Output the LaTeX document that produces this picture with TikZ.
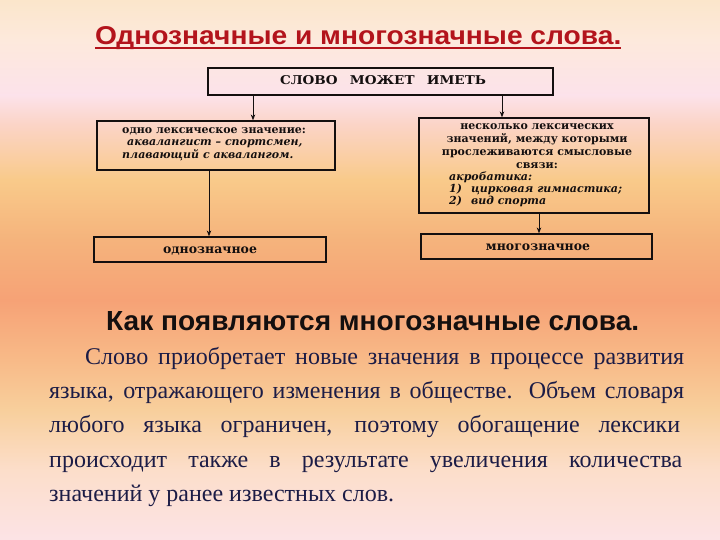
\documentclass[tikz,border=0pt]{standalone}
\usepackage{fontspec}
\setmainfont{Liberation Serif}
\newfontfamily\sansb{Liberation Sans}
\newfontfamily\boxfont{DejaVu Serif}
\usetikzlibrary{arrows.meta}
\definecolor{g0}{HTML}{FBE6CB}
\definecolor{g1}{HTML}{FDE9DC}
\definecolor{g2}{HTML}{FCE2EA}
\definecolor{g3}{HTML}{FBD4C6}
\definecolor{g4}{HTML}{F9CA8A}
\definecolor{g5}{HTML}{F5B37C}
\definecolor{g6}{HTML}{F6A276}
\definecolor{g7}{HTML}{F8BA88}
\definecolor{g8}{HTML}{F8CF9C}
\definecolor{g9}{HTML}{FCDECA}
\definecolor{g10}{HTML}{FCE3E6}
\definecolor{titlered}{HTML}{B3141C}
\definecolor{navy}{HTML}{1C1C46}
\definecolor{ink}{HTML}{140F0F}
\tikzset{
  box/.style={draw=ink, line width=1.2pt, inner sep=0pt},
  btext/.style={inner sep=0pt, text=ink, font=\boxfont\fontsize{11}{13}\selectfont},
  para/.style={inner sep=0pt, anchor=base west, text=navy, font=\fontsize{24}{34}\selectfont},
  arr/.style={draw=ink, line width=0.9pt, -{Stealth[length=6pt,width=4.5pt]}}
}
\begin{document}
\begin{tikzpicture}[x=1pt,y=-1pt]
\useasboundingbox (0,0) rectangle (720,540);
% background gradient
\shade[top color=g0, bottom color=g1] (0,0) rectangle (720,40);
\shade[top color=g1, bottom color=g2] (0,40) rectangle (720,95);
\shade[top color=g2, bottom color=g3] (0,95) rectangle (720,125);
\shade[top color=g3, bottom color=g4] (0,125) rectangle (720,180);
\shade[top color=g4, bottom color=g5] (0,180) rectangle (720,240);
\shade[top color=g5, bottom color=g6] (0,240) rectangle (720,300);
\shade[top color=g6, bottom color=g7] (0,300) rectangle (720,360);
\shade[top color=g7, bottom color=g8] (0,360) rectangle (720,410);
\shade[top color=g8, bottom color=g9] (0,410) rectangle (720,470);
\shade[top color=g9, bottom color=g10] (0,470) rectangle (720,540.5);

% title
\node[anchor=base west, inner sep=0pt, text=titlered] (title) at (95,45)
  {\resizebox{526pt}{18pt}{\sansb\bfseries Однозначные и многозначные слова.}};
\draw[titlered, line width=2pt] ([yshift=-3pt]title.base west) -- ([yshift=-3pt]title.base east);

% boxes
\node[box, minimum width=345pt, minimum height=27pt] (top) at (380.5,81.5) {};
\node[box, minimum width=238pt, minimum height=49pt] (lbox) at (216,145.5) {};
\node[box, minimum width=230pt, minimum height=95pt] (rbox) at (534,165.5) {};
\node[box, minimum width=232pt, minimum height=25pt] (lbot) at (210,249.5) {};
\node[box, minimum width=231pt, minimum height=25pt] (rbot) at (536.5,246.5) {};

% box texts
\node[btext, anchor=base] (toptext) at (383,85)
  {\resizebox{206pt}{9pt}{\bfseries СЛОВО\hspace{0.9em}МОЖЕТ\hspace{0.9em}ИМЕТЬ}};
\node[btext, anchor=base west] (lt1) at (122,134) {\bfseries одно лексическое значение:};
\node[btext, anchor=base west] (lt2) at (127,146) {\bfseries\itshape аквалангист – спортсмен,};
\node[btext, anchor=base west] (lt3) at (122,159) {\bfseries\itshape плавающий с аквалангом.};
\node[btext, anchor=base] (rt1) at (537,130) {\bfseries несколько лексических};
\node[btext, anchor=base] (rt2) at (537,143) {\bfseries значений, между которыми};
\node[btext, anchor=base] (rt3) at (537,156) {\bfseries прослеживаются смысловые};
\node[btext, anchor=base] (rt4) at (537,169) {\bfseries связи:};
\node[btext, anchor=base west] (rt5) at (449,181) {\bfseries\itshape акробатика:};
\node[btext, anchor=base west] (rt6) at (449,193) {\bfseries\itshape 1)\hspace{9pt}цирковая гимнастика;};
\node[btext, anchor=base west] (rt7) at (449,205) {\bfseries\itshape 2)\hspace{9pt}вид спорта};
\node[btext, anchor=base, font=\boxfont\fontsize{12.5}{14}\selectfont] (lbt) at (210,253) {\bfseries однозначное};
\node[btext, anchor=base, font=\boxfont\fontsize{12.5}{14}\selectfont] (rbt) at (538,250) {\bfseries многозначное};

% connectors
\draw[arr] (top.south -| 253,0) -- (lbox.north -| 253,0);
\draw[arr] (top.south -| 502,0) -- (rbox.north -| 502,0);
\draw[arr] (lbox.south -| 209,0) -- (lbot.north -| 209,0);
\draw[arr] (rbox.south -| 539,0) -- (rbot.north -| 539,0);

% lower text
\node[anchor=base west, inner sep=0pt, text=ink] (head) at (106,330)
  {\resizebox{533pt}{19pt}{\sansb\bfseries Как появляются многозначные слова.}};
\node[para] (p1) at (85,364) {\makebox[599pt][s]{Слово приобретает новые значения в процессе развития}};
\node[para] (p2) at (49,398) {\makebox[635pt][s]{языка, отражающего изменения в обществе. Объем словаря}};
\node[para] (p3) at (49,432) {\makebox[631pt][s]{любого языка ограничен, поэтому обогащение лексики}};
\node[para] (p4) at (49,467) {\makebox[633pt][s]{происходит также в результате увеличения количества}};
\node[para] (p5) at (49,501) {значений у ранее известных слов.};
\end{tikzpicture}
\end{document}
